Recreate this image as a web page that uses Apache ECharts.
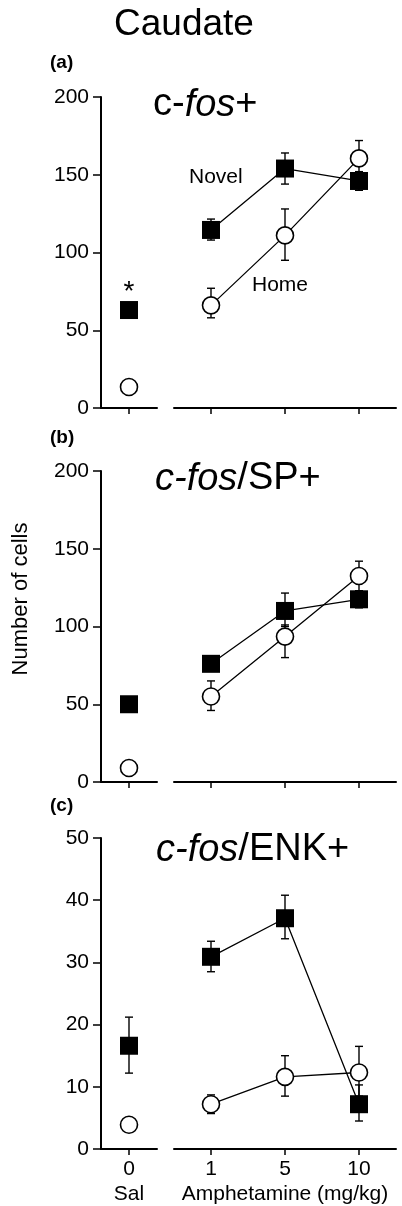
<!DOCTYPE html>
<html>
<head>
<meta charset="utf-8">
<script src="https://cdn.jsdelivr.net/npm/echarts@6/dist/echarts.min.js"></script>
<style>
  html, body { margin: 0; padding: 0; background: #fff; }
  #main { width: 402px; height: 1206px; }
</style>
</head>
<body>
<div id="main"></div>
<script>
var FONT = '"Liberation Sans", Arial, sans-serif';

// x categories
var salCats = ['0'];
var doseCats = ['1', '5', '10'];

// y axes per panel (a, b, c)
var yMax = [200, 200, 50];
var yStep = [50, 50, 10];

// saline group
var salNovel = [63, 50, 16.6];
var salHome = [13.5, 9, 3.9];
var salNovelLo = [null, null, 12.2];
var salNovelHi = [null, null, 21.2];

// amphetamine 1, 5, 10 mg/kg
var ampNovel = [[114.5, 154, 146], [76, 110, 117.5], [30.9, 37.1, 7.2]];
var ampNovelLo = [[108, 144, 140], [73, 100, 112], [28.5, 33.8, 4.5]];
var ampNovelHi = [[121.5, 164, 152], [79, 121.5, 123], [33.4, 40.8, 10.3]];
var ampHome = [[66, 111, 160.5], [55, 93.5, 132.5], [7.2, 11.6, 12.3]];
var ampHomeLo = [[58, 95, 150], [46, 80, 123], [5.7, 8.5, 8.5]];
var ampHomeHi = [[77, 128, 172], [65, 101, 142], [8.7, 15, 16.5]];

var gridTops = [97, 471, 838];
var gridH = 311;

var chart = echarts.init(document.getElementById('main'));

// error bar drawing
function errorBars(params, api) {
  var x = api.value(0);
  var lo = api.coord([x, api.value(1)]);
  var hi = api.coord([x, api.value(2)]);
  var cap = 4;
  var st = { stroke: '#000', lineWidth: 1.4 };
  return {
    type: 'group',
    children: [
      { type: 'line', shape: { x1: lo[0], y1: lo[1], x2: hi[0], y2: hi[1] }, style: st },
      { type: 'line', shape: { x1: hi[0] - cap, y1: hi[1], x2: hi[0] + cap, y2: hi[1] }, style: st },
      { type: 'line', shape: { x1: lo[0] - cap, y1: lo[1], x2: lo[0] + cap, y2: lo[1] }, style: st }
    ]
  };
}

var grids = [], xAxes = [], yAxes = [], series = [];

for (var p = 0; p < 3; p++) {
  var gl = 2 * p, gr = 2 * p + 1;
  var last = p === 2;
  grids.push({ left: 101, width: 56, top: gridTops[p], height: gridH });
  grids.push({ left: 174, width: 222, top: gridTops[p], height: gridH });

  var axisLine = { show: true, lineStyle: { color: '#000', width: 2 } };
  xAxes.push({
    type: 'category', gridIndex: gl, data: salCats, boundaryGap: true,
    axisLine: axisLine,
    axisTick: { show: true, alignWithLabel: true, length: 6, lineStyle: { color: '#000', width: 1.5 } },
    axisLabel: {
      show: last, margin: 8, color: '#000',
      formatter: function (v) { return '{v|' + v + '}\n{s|Sal}'; },
      rich: {
        v: { fontFamily: FONT, fontSize: 21, lineHeight: 25, color: '#000' },
        s: { fontFamily: FONT, fontSize: 21, lineHeight: 25, color: '#000' }
      }
    },
    splitLine: { show: false }
  });
  xAxes.push({
    type: 'category', gridIndex: gr, data: doseCats, boundaryGap: true,
    axisLine: axisLine,
    axisTick: { show: true, alignWithLabel: true, length: 6, lineStyle: { color: '#000', width: 1.5 } },
    axisLabel: {
      show: last, margin: 8, color: '#000',
      formatter: function (v) { return '{v|' + v + '}'; },
      rich: { v: { fontFamily: FONT, fontSize: 21, lineHeight: 25, color: '#000' } }
    },
    name: last ? 'Amphetamine (mg/kg)' : '',
    nameLocation: 'middle', nameGap: 35,
    nameTextStyle: { fontFamily: FONT, fontSize: 21, color: '#000' },
    splitLine: { show: false }
  });

  yAxes.push({
    type: 'value', gridIndex: gl, min: 0, max: yMax[p], interval: yStep[p],
    axisLine: axisLine,
    axisTick: { show: true, length: 8, lineStyle: { color: '#000', width: 1.5 } },
    axisLabel: { margin: 12, color: '#000', fontFamily: FONT, fontSize: 21 },
    splitLine: { show: false }
  });
  yAxes.push({
    type: 'value', gridIndex: gr, min: 0, max: yMax[p], interval: yStep[p], show: false,
    splitLine: { show: false }
  });

  // error bars
  var salErr = [];
  if (salNovelLo[p] != null) salErr.push([0, salNovelLo[p], salNovelHi[p]]);
  series.push({
    type: 'custom', xAxisIndex: gl, yAxisIndex: gl, z: 1,
    renderItem: errorBars, encode: { x: 0, y: [1, 2] }, data: salErr
  });
  var ampErr = [];
  for (var i = 0; i < doseCats.length; i++) {
    ampErr.push([i, ampNovelLo[p][i], ampNovelHi[p][i]]);
    ampErr.push([i, ampHomeLo[p][i], ampHomeHi[p][i]]);
  }
  series.push({
    type: 'custom', xAxisIndex: gr, yAxisIndex: gr, z: 1,
    renderItem: errorBars, encode: { x: 0, y: [1, 2] }, data: ampErr
  });

  // home (open circles)
  var homeStyle = { color: '#fff', borderColor: '#000', borderWidth: 1.6, opacity: 1 };
  series.push({
    name: 'Home', type: 'line', xAxisIndex: gr, yAxisIndex: gr, z: 3,
    data: ampHome[p], symbol: 'circle', symbolSize: 17, showSymbol: true,
    lineStyle: { color: '#000', width: 1.3 }, itemStyle: homeStyle, animation: false
  });
  series.push({
    name: 'Home', type: 'scatter', xAxisIndex: gl, yAxisIndex: gl, z: 3,
    data: [salHome[p]], symbol: 'circle', symbolSize: 17, itemStyle: homeStyle
  });

  // novel (filled squares)
  var novelStyle = { color: '#000', opacity: 1 };
  series.push({
    name: 'Novel', type: 'line', xAxisIndex: gr, yAxisIndex: gr, z: 4,
    data: ampNovel[p], symbol: 'rect', symbolSize: 18, showSymbol: true,
    lineStyle: { color: '#000', width: 1.3 }, itemStyle: novelStyle, animation: false
  });
  var salItem = { value: salNovel[p] };
  if (p === 0) {
    salItem.label = { show: true, position: 'top', distance: -5, formatter: '*',
      fontFamily: FONT, fontSize: 28, color: '#000' };
  }
  series.push({
    name: 'Novel', type: 'scatter', xAxisIndex: gl, yAxisIndex: gl, z: 4,
    data: [salItem], symbol: 'rect', symbolSize: 18, itemStyle: novelStyle
  });
}

var txt = function (x, y, text, size, extra) {
  var st = { text: text, font: size + 'px ' + FONT, fill: '#000', verticalAlign: 'middle', align: 'left' };
  for (var k in extra) st[k] = extra[k];
  return { type: 'text', x: x, y: y, style: st };
};
var titleRich = function (size) {
  return {
    i: { fontFamily: FONT, fontSize: size, fontStyle: 'italic', fill: '#000' },
    n: { fontFamily: FONT, fontSize: size, fill: '#000' }
  };
};

var option = {
  animation: false,
  backgroundColor: '#fff',
  grid: grids,
  xAxis: xAxes,
  yAxis: yAxes,
  series: series,
  graphic: [
    txt(114, 25, 'Caudate', 37),
    txt(50, 63, '(a)', 19, { font: 'bold 19px ' + FONT }),
    txt(50, 438, '(b)', 19, { font: 'bold 19px ' + FONT }),
    txt(50, 806, '(c)', 19, { font: 'bold 19px ' + FONT }),
    txt(153, 105, '{n|c-}{i|fos}{n|+}', 38, { rich: titleRich(38) }),
    txt(155, 479, '{i|c-fos}{n|/SP+}', 38, { rich: titleRich(38) }),
    txt(156, 850, '{i|c-fos}{n|/ENK+}', 38, { rich: titleRich(38) }),
    txt(189, 177, 'Novel', 21),
    txt(252, 285, 'Home', 21),
    {
      type: 'text', x: 21, y: 599, rotation: Math.PI / 2,
      style: { text: 'Number of cells', font: '22px ' + FONT, fill: '#000', align: 'center', verticalAlign: 'middle' }
    }
  ]
};

chart.setOption(option);
</script>
</body>
</html>
